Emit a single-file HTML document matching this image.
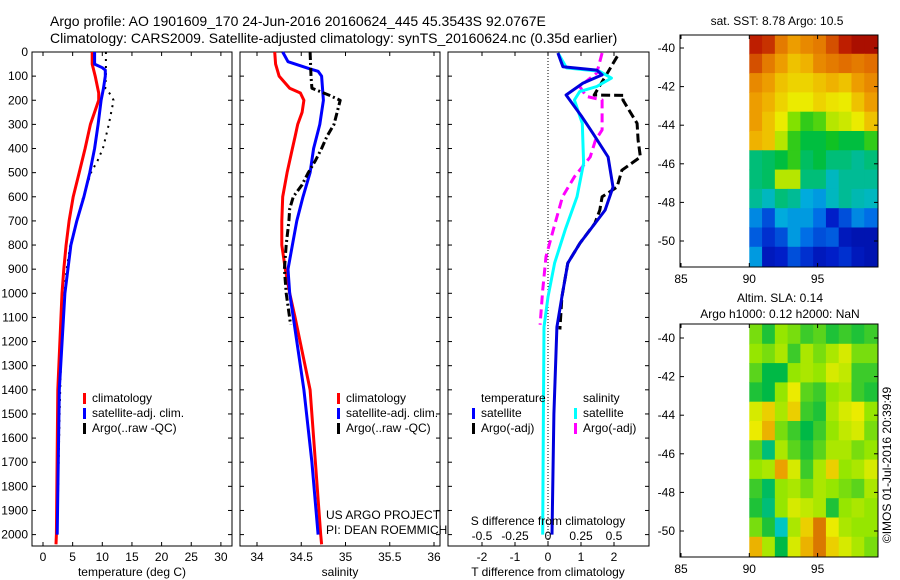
<!DOCTYPE html>
<html><head><meta charset="utf-8">
<style>
html,body{margin:0;padding:0;background:#fff;}
svg{display:block;font-family:"Liberation Sans",sans-serif;}
text{fill:#000;}
</style></head>
<body>
<svg id="chart" width="900" height="580" viewBox="0 0 900 580" xmlns="http://www.w3.org/2000/svg">
<text x="50" y="26" font-size="14">Argo profile: AO 1901609_170 24-Jun-2016 20160624_445 45.3543S 92.0767E</text>
<text x="50" y="43" font-size="14">Climatology: CARS2009. Satellite-adjusted climatology: synTS_20160624.nc (0.35d earlier)</text>
</svg>
<script>
// ---------- data ----------
const depthTicks=[0,100,200,300,400,500,600,700,800,900,1000,1100,1200,1300,1400,1500,1600,1700,1800,1900,2000];
const tempTicks=[0,5,10,15,20,25,30];
const salTicks=[34,34.5,35,35.5,36];
const salTickLabels=["34","34.5","35","35.5","36"];
const tdiffTicks=[-2,-1,0,1,2];
const sdiffTicks=[-0.5,-0.25,0,0.25,0.5];
const sdiffTickLabels=["-0.5","-0.25","0","0.25","0.5"];

const tClimDepth=[0,50,100,170,200,300,400,500,600,700,800,900,1000,1400,2000,2040];
const tClimVal=[8.3,8.3,8.8,9.4,9.4,8.0,7.1,6.1,5.1,4.4,3.9,3.5,3.2,2.5,2.26,2.2];
const tSatDepth=[0,50,65,75,100,150,200,300,400,500,600,700,800,900,1000,1400,2000];
const tSatVal=[8.7,8.7,10.0,10.5,10.5,10.2,9.8,9.3,8.7,7.9,6.9,5.7,4.7,4.2,3.7,2.75,2.4];
const tArgoDepth=[0,50,100,150,180,200,250,300,350,400,450,500,600,700,800,900,1000,1200,1500,2000];
const tArgoVal=[10.6,10.6,10.6,10.5,11.5,11.9,11.5,11.1,10.6,10.1,9.2,8.1,6.8,5.7,4.6,4.0,3.6,3.1,2.8,2.4];

const sClimDepth=[0,50,100,150,170,200,250,300,350,400,500,600,700,800,900,1000,1100,1400,1700,2000,2040];
const sClimVal=[34.2,34.21,34.25,34.37,34.49,34.53,34.51,34.46,34.43,34.4,34.34,34.29,34.28,34.28,34.32,34.37,34.43,34.6,34.66,34.72,34.73];
const sSatDepth=[0,40,70,80,100,200,300,400,500,600,700,800,900,1000,1100,1400,1700,2000];
const sSatVal=[34.29,34.35,34.6,34.69,34.73,34.75,34.71,34.64,34.6,34.52,34.45,34.4,34.35,34.37,34.41,34.53,34.62,34.69];
const sArgoDepth=[0,100,150,180,200,300,350,400,450,500,550,600,650,700,800,900,1000,1130];
const sArgoVal=[34.6,34.61,34.62,34.82,34.94,34.87,34.79,34.73,34.66,34.58,34.51,34.41,34.37,34.36,34.33,34.31,34.33,34.38];

const dTSatDepth=[4,61,75,95,129,178,269,337,435,560,655,792,875,1015,1140,1500,2000];
const dTSatVal=[0.3,0.45,1.48,1.64,1.06,0.55,1.03,1.36,1.82,1.97,1.73,0.97,0.6,0.42,0.27,0.18,0.12];
const dSSatDepth=[4,66,80,108,143,164,199,296,461,600,737,875,1015,1140,1500,2000];
const dSSatVal=[0.076,0.14,0.39,0.48,0.37,0.24,0.2,0.26,0.27,0.22,0.13,0.05,0,-0.03,-0.035,-0.04];
const dSArgoDepth=[4,87,143,184,199,323,365,435,517,600,737,848,987,1130];
const dSArgoVal=[0.41,0.37,0.24,0.29,0.41,0.41,0.36,0.32,0.2,0.11,0.04,-0.015,-0.04,-0.06];
const dTArgoDepth=[18,87,178,180,199,296,365,435,490,560,600,655,710,792,875,1015,1150];
const dTArgoVal=[2.1,1.8,1.4,2.3,2.27,2.7,2.73,2.8,2.24,2.09,1.64,1.57,1.42,0.97,0.6,0.42,0.36];

const lonTicks=[85,90,95];
const latTicks=[-40,-42,-44,-46,-48,-50];
const sstGrid=[
[0.9,0.88,0.8,0.75,0.78,0.8,0.85,0.9,0.95,0.95],
[0.85,0.8,0.75,0.7,0.72,0.78,0.8,0.82,0.8,0.82],
[0.78,0.75,0.7,0.68,0.68,0.7,0.72,0.7,0.75,0.78],
[0.75,0.72,0.68,0.65,0.65,0.68,0.66,0.65,0.7,0.75],
[0.75,0.7,0.65,0.55,0.5,0.52,0.6,0.62,0.65,0.7],
[0.72,0.7,0.6,0.5,0.45,0.45,0.48,0.45,0.45,0.5],
[0.4,0.42,0.45,0.5,0.42,0.45,0.4,0.4,0.38,0.4],
[0.4,0.42,0.6,0.6,0.4,0.4,0.35,0.38,0.38,0.38],
[0.38,0.35,0.4,0.38,0.32,0.3,0.35,0.38,0.36,0.35],
[0.28,0.2,0.32,0.3,0.3,0.25,0.12,0.2,0.28,0.25],
[0.22,0.15,0.2,0.3,0.25,0.2,0.22,0.1,0.08,0.08],
[0.3,0.1,0.12,0.2,0.15,0.1,0.12,0.15,0.1,0.08]];
const slaGrid=[
[0.5,0.35,0.55,0.5,0.4,0.45,0.35,0.4,0.35,0.4],
[0.55,0.5,0.6,0.4,0.6,0.5,0.6,0.7,0.5,0.5],
[0.45,0.3,0.3,0.55,0.6,0.55,0.7,0.65,0.4,0.4],
[0.35,0.3,0.55,0.75,0.45,0.4,0.55,0.6,0.4,0.35],
[0.7,0.8,0.6,0.8,0.4,0.35,0.6,0.7,0.75,0.55],
[0.75,0.85,0.5,0.4,0.3,0.4,0.55,0.65,0.7,0.5],
[0.45,0.2,0.6,0.45,0.35,0.45,0.6,0.6,0.5,0.55],
[0.55,0.6,0.88,0.7,0.4,0.6,0.8,0.55,0.6,0.7],
[0.4,0.25,0.55,0.6,0.5,0.6,0.55,0.5,0.45,0.6],
[0.35,0.2,0.55,0.7,0.65,0.6,0.35,0.55,0.6,0.55],
[0.5,0.35,0.05,0.6,0.8,0.95,0.75,0.6,0.55,0.55],
[0.85,0.6,0.3,0.7,0.85,0.95,0.8,0.7,0.6,0.5]];

// ---------- helpers ----------
const svg=document.getElementById('chart');
const NS='http://www.w3.org/2000/svg';
function mk(tag,attrs,parent){const e=document.createElementNS(NS,tag);for(const k in attrs)e.setAttribute(k,attrs[k]);(parent||svg).appendChild(e);return e;}
const yD=d=>52+d*0.2413;
const xT=t=>43+t*5.93;
const xS=s=>257+(s-34)*88.5;
const xdT=t=>548+t*33;
const xdS=s=>548+s*132;
const PT=52,PB=546;

function panel(x0,x1,name){
  const r=mk('rect',{x:x0,y:PT,width:x1-x0,height:PB-PT,fill:'none',stroke:'#000','stroke-width':1});
  
  
}
function xticks(vals,labels,scale,name){
  vals.forEach((v,i)=>{
    const x=scale(v);
    mk('line',{x1:x,x2:x,y1:PT,y2:PT+4,stroke:'#000'});
    mk('line',{x1:x,x2:x,y1:PB,y2:PB-4,stroke:'#000'});
    const t=mk('text',{x:x,y:561,'font-size':12,'text-anchor':'middle'});
    t.textContent=labels?labels[i]:String(v);
    
    
  });
}
function dticks(x0,x1){
  depthTicks.forEach(d=>{
    const y=yD(d);
    mk('line',{x1:x0,x2:x0+4,y1:y,y2:y,stroke:'#000'});
    mk('line',{x1:x1,x2:x1-4,y1:y,y2:y,stroke:'#000'});
  });
}
function series(depths,vals,scale,color,w,dash,name){
  const pts=depths.map((d,i)=>scale(vals[i]).toFixed(1)+','+yD(d).toFixed(1)).join(' ');
  const a={points:pts,fill:'none',stroke:color,'stroke-width':w,'stroke-linejoin':'round'};
  if(dash)a['stroke-dasharray']=dash;
  const p=mk('polyline',a);
  
  
}
function label(x,y,txt,size,name,anchor){
  const t=mk('text',{x:x,y:y,'font-size':size,'text-anchor':anchor||'start'});
  t.textContent=txt;
  
  
  return t;
}
function legendItem(x,y,color,txt,name){
  const r=mk('rect',{x:x,y:y-9,width:3,height:11,fill:color});
  
  
  label(x+9,y,txt,12,name);
}

// depth labels
depthTicks.forEach(d=>{
  const t=mk('text',{x:28,y:yD(d)+4,'font-size':12,'text-anchor':'end'});
  t.textContent=String(d);
  
  
});

// panel 1 temperature
panel(32,232,'temperature-panel');
dticks(32,232);
xticks(tempTicks,null,xT,'temperature-tick-label');
series(tArgoDepth,tArgoVal,xT,'#000',2,'2,5','temperature-argo-line');
series(tClimDepth,tClimVal,xT,'#ff0000',3,null,'temperature-climatology-line');
series(tSatDepth,tSatVal,xT,'#0000ff',3,null,'temperature-satellite-line');
label(132,576,'temperature (deg C)',12,'temperature-axis-title','middle');
legendItem(83,402,'#ff0000','climatology','legend-climatology-t');
legendItem(83,417,'#0000ff','satellite-adj. clim.','legend-satellite-t');
legendItem(83,432,'#000','Argo(..raw -QC)','legend-argo-t');

// panel 2 salinity
panel(240,440,'salinity-panel');
dticks(240,440);
xticks(salTicks,salTickLabels,xS,'salinity-tick-label');
series(sClimDepth,sClimVal,xS,'#ff0000',3,null,'salinity-climatology-line');
series(sSatDepth,sSatVal,xS,'#0000ff',3,null,'salinity-satellite-line');
series(sArgoDepth,sArgoVal,xS,'#000',3,'8,3,2,3','salinity-argo-line');
label(340,576,'salinity',12,'salinity-axis-title','middle');
legendItem(337,402,'#ff0000','climatology','legend-climatology-s');
legendItem(337,417,'#0000ff','satellite-adj. clim.','legend-satellite-s');
legendItem(337,432,'#000','Argo(..raw -QC)','legend-argo-s');
label(326,519,'US ARGO PROJECT',12,'project-credit');
label(326,534,'PI: DEAN ROEMMICH',12,'pi-credit');

// panel 3 differences
panel(448,649,'difference-panel');
dticks(448,649);
xticks(tdiffTicks,null,xdT,'tdiff-tick-label');
mk('line',{x1:xdT(0),x2:xdT(0),y1:PT,y2:PB,stroke:'#000','stroke-dasharray':'1,2'});
series(dSArgoDepth,dSArgoVal,xdS,'#ff00ff',3,'9,5','sdiff-argo-line');
series(dTArgoDepth,dTArgoVal,xdT,'#000',3,'9,4','tdiff-argo-line');
series(dSSatDepth,dSSatVal,xdS,'#00ffff',3,null,'sdiff-satellite-line');
series(dTSatDepth,dTSatVal,xdT,'#0000dd',3,null,'tdiff-satellite-line');
label(548,576,'T difference from climatology',12,'tdiff-axis-title','middle');
label(548,525,'S difference from climatology',12,'sdiff-axis-title','middle');
sdiffTicks.forEach((v,i)=>{label(xdS(v),540,sdiffTickLabels[i],12,'sdiff-tick-label','middle');});
label(481,402,'temperature',12,'legend-temperature-heading');
label(583,402,'salinity',12,'legend-salinity-heading');
legendItem(472,417,'#0000ff','satellite','legend-tdiff-satellite');
legendItem(472,432,'#000','Argo(-adj)','legend-tdiff-argo');
legendItem(574,417,'#00ffff','satellite','legend-sdiff-satellite');
legendItem(574,432,'#ff00ff','Argo(-adj)','legend-sdiff-argo');

// ---------- maps ----------
function ramp(stops,v){
  v=Math.max(0,Math.min(1,v));
  for(let i=1;i<stops.length;i++){
    if(v<=stops[i][0]){
      const a=stops[i-1],b=stops[i],f=(v-a[0])/(b[0]-a[0]);
      return 'rgb('+a[1].map((c,k)=>Math.round(c+(b[1][k]-c)*f)).join(',')+')';
    }
  }
  const l=stops[stops.length-1][1];return 'rgb('+l.join(',')+')';
}
const sstStops=[[0,[0,0,130]],[0.12,[0,30,200]],[0.25,[0,110,230]],[0.33,[0,180,220]],[0.4,[0,190,120]],[0.47,[0,190,40]],[0.55,[130,225,0]],[0.65,[235,235,0]],[0.73,[240,170,0]],[0.82,[225,110,0]],[0.9,[190,30,0]],[1,[150,0,0]]];
const slaStops=[[0,[0,200,220]],[0.3,[0,185,70]],[0.55,[150,230,0]],[0.75,[235,235,0]],[0.9,[235,150,0]],[1,[200,90,0]]];
const sstCol=v=>ramp(sstStops,v);
const slaCol=v=>ramp(slaStops,v);
function map(top,bot,lat40y,lat50y,grid,cfun,name){
  const xL=lon=>681+(lon-85)*13.66;
  const yL=lat=>lat40y+(-40-lat)*(lat50y-lat40y)/10;
  const lonMin=90,lonMax=99.35,latTop=-39.3,latBot=-51.3;
  const nr=grid.length,nc=grid[0].length;
  const g=mk('g',{});
  
  
  grid.forEach((row,r)=>row.forEach((v,c)=>{
    const lo0=lonMin+(lonMax-lonMin)*c/nc,lo1=lonMin+(lonMax-lonMin)*(c+1)/nc;
    const la0=latTop+(latBot-latTop)*r/nr,la1=latTop+(latBot-latTop)*(r+1)/nr;
    const cell=mk('rect',{x:xL(lo0),y:Math.max(top,yL(la0)),width:xL(lo1)-xL(lo0)+0.6,height:Math.min(bot,yL(la1))-Math.max(top,yL(la0))+0.6,fill:cfun(v)},g);
    
    
  }));
  const b=mk('rect',{x:680,y:top,width:198,height:bot-top,fill:'none',stroke:'#000'});
  
  
  lonTicks.forEach(l=>{
    const x=xL(l);
    mk('line',{x1:x,x2:x,y1:top,y2:top+4,stroke:'#000'});
    mk('line',{x1:x,x2:x,y1:bot,y2:bot-4,stroke:'#000'});
    label(x,bot+16,String(l),12,name+'-lon-label','middle');
  });
  latTicks.forEach(l=>{
    const y=yL(l);
    mk('line',{x1:680,x2:684,y1:y,y2:y,stroke:'#000'});
    mk('line',{x1:878,x2:874,y1:y,y2:y,stroke:'#000'});
    label(675,y+4,String(l),12,name+'-lat-label','end');
  });
}
map(35,267,48,241,sstGrid,sstCol,'sst-map');
label(777,25,'sat. SST: 8.78 Argo: 10.5',12,'sst-map-title','middle');
map(324,557,338,531,slaGrid,slaCol,'sla-map');
label(780,302,'Altim. SLA: 0.14',12,'sla-map-title','middle');
label(780,318,'Argo h1000: 0.12 h2000: NaN',12,'sla-map-subtitle','middle');
const cr=label(0,0,'©IMOS 01-Jul-2016 20:39:49',12,'imos-timestamp','middle');
cr.setAttribute('transform','translate(891,465) rotate(-90)');
</script>
</body></html>
